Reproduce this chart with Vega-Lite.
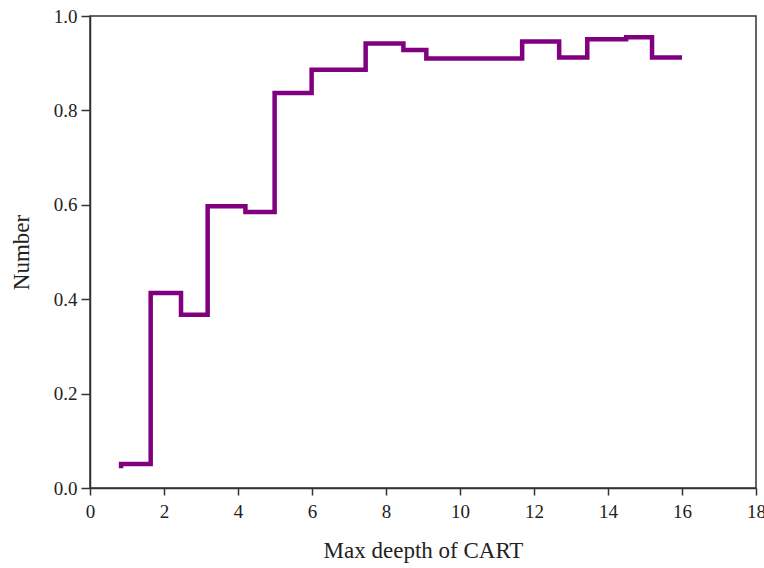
{
  "$schema": "https://vega.github.io/schema/vega-lite/v6.json",
  "width": 666,
  "height": 472,
  "autosize": {"type": "none"},
  "padding": {"left": 90, "top": 16, "right": 8, "bottom": 80},
  "background": "white",
  "config": {
    "view": {"stroke": "#333333", "strokeWidth": 1.5},
    "font": "Liberation Serif"
  },
  "data": {
    "values": [
      {"depth": 0.84, "value": 0.042},
      {"depth": 0.84, "value": 0.051},
      {"depth": 1.64, "value": 0.413},
      {"depth": 2.46, "value": 0.367},
      {"depth": 3.18, "value": 0.597},
      {"depth": 4.2, "value": 0.585},
      {"depth": 4.99, "value": 0.837},
      {"depth": 5.99, "value": 0.886},
      {"depth": 7.45, "value": 0.942},
      {"depth": 8.47, "value": 0.928},
      {"depth": 9.09, "value": 0.910},
      {"depth": 11.68, "value": 0.946},
      {"depth": 12.68, "value": 0.912},
      {"depth": 13.44, "value": 0.951},
      {"depth": 14.49, "value": 0.955},
      {"depth": 15.19, "value": 0.912},
      {"depth": 16.0, "value": 0.912}
    ]
  },
  "mark": {"type": "line", "interpolate": "step-after", "color": "#800080", "strokeWidth": 4.5, "strokeJoin": "miter", "strokeCap": "butt"},
  "encoding": {
    "x": {
      "field": "depth", "type": "quantitative", "sort": null,
      "scale": {"domain": [0, 18], "nice": false, "zero": false},
      "axis": {
        "title": "Max deepth of CART", "values": [0,2,4,6,8,10,12,14,16,18],
        "grid": false, "domainColor": "#333333", "domainWidth": 1.5,
        "tickColor": "#333333", "tickSize": 7, "tickWidth": 1.5,
        "labelFont": "Liberation Serif", "labelFontSize": 19, "labelColor": "#222222",
        "labelPadding": 7, "labelFlush": false, "labelOverlap": false,
        "titleFont": "Liberation Serif", "titleFontSize": 23, "titleFontWeight": "normal",
        "titleColor": "#222222", "titlePadding": 18
      }
    },
    "y": {
      "field": "value", "type": "quantitative",
      "scale": {"domain": [0, 1], "nice": false},
      "axis": {
        "title": "Number", "values": [0,0.2,0.4,0.6,0.8,1.0], "format": ".1f",
        "grid": false, "domainColor": "#333333", "domainWidth": 1.5,
        "tickColor": "#333333", "tickSize": 9, "tickWidth": 1.5,
        "labelFont": "Liberation Serif", "labelFontSize": 19, "labelColor": "#222222",
        "labelPadding": 4, "labelFlush": false,
        "titleFont": "Liberation Serif", "titleFontSize": 23, "titleFontWeight": "normal",
        "titleColor": "#222222", "titlePadding": 20
      }
    }
  }
}
